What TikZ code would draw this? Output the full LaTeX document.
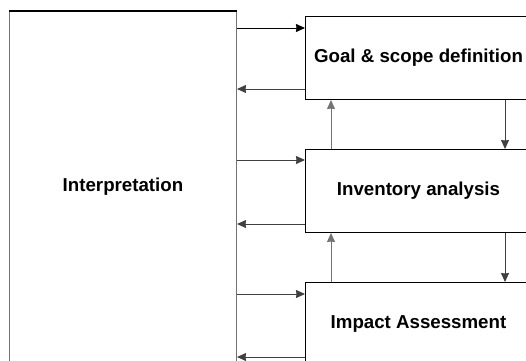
\documentclass[tikz,border=0pt]{standalone}
\usepackage{fontspec}
\setmainfont{Liberation Sans}
\usetikzlibrary{arrows.meta,calc}
\begin{document}
\begin{tikzpicture}[x=1pt,y=-1pt,
  box/.style={draw=black, line width=1pt, rectangle, minimum width=226pt, minimum height=83pt,
    anchor=north west, inner sep=0pt, font=\fontsize{18.7}{22}\selectfont\bfseries},
  conn/.style={draw=black!75, line width=1pt, -{Stealth[length=9pt,width=8pt,inset=0.5pt]}}]
\useasboundingbox (0,0) rectangle (526,360);
\clip (0,0) rectangle (526,360);
\fill[white] (0,0) rectangle (526,360);
\node[box, draw=black!55, minimum width=227pt, minimum height=350pt] (interp) at (9,11) {Interpretation};
\draw[line width=2pt] (interp.north west) -- (interp.north east);
\node[box] (goal) at (305,16) {Goal \& scope definition};
\node[box] (inv) at (305,149) {Inventory analysis};
\node[box] (imp) at (305,282) {Impact Assessment};
% horizontal connectors
\coordinate (g1) at ($(goal.north west)+(0,12)$);
\coordinate (g2) at ($(goal.south west)+(0,-11)$);
\coordinate (i1) at ($(inv.north west)+(0,11)$);
\coordinate (i2) at ($(inv.south west)+(0,-9)$);
\coordinate (m1) at ($(imp.north west)+(0,12)$);
\coordinate (m2) at ($(imp.south west)+(0,-9)$);
\draw[conn, draw=black] (interp.east |- g1) -- (g1);
\draw[conn] (g2) -- (interp.east |- g2);
\draw[conn] (interp.east |- i1) -- (i1);
\draw[conn] (i2) -- (interp.east |- i2);
\draw[conn] (interp.east |- m1) -- (m1);
\draw[conn] (m2) -- (interp.east |- m2);
% vertical connectors
\coordinate (up) at (331,0);
\coordinate (dn) at (505,0);
\draw[conn, draw=black!55] (inv.north -| up) -- (goal.south -| up);
\draw[conn] (goal.south -| dn) -- (inv.north -| dn);
\draw[conn, draw=black!55] (imp.north -| up) -- (inv.south -| up);
\draw[conn] (inv.south -| dn) -- (imp.north -| dn);
\end{tikzpicture}
\end{document}
